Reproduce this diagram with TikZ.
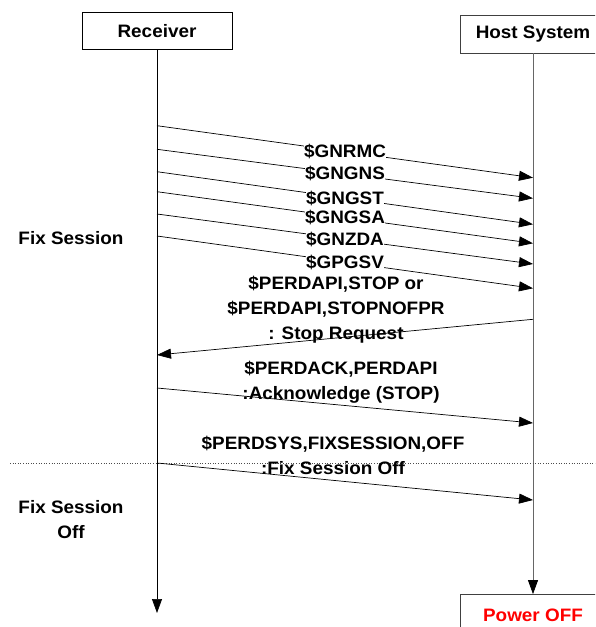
\documentclass[tikz,border=0pt]{standalone}
\usepackage{fontspec}
\setmainfont{Liberation Sans}[FakeStretch=1.05]
\usepackage{xcolor}
\usetikzlibrary{arrows.meta,positioning}

\begin{document}
\begin{tikzpicture}[x=1pt, y=-1pt,
    box/.style={draw, line width=0.8pt, minimum width=150pt, minimum height=37pt, inner sep=0pt,
        font=\bfseries\fontsize{18}{25}\selectfont},
    life/.style={line width=0.8pt},
    msg/.style={-{Triangle[length=14pt, width=10pt]}, line width=0.7pt},
    lbl/.style={font=\bfseries\fontsize{18}{25}\selectfont, inner sep=0.5pt, align=center},
    gn/.style={lbl, fill=white, pos=0.5}
]
    \useasboundingbox (0,0) rectangle (595,627);
    \clip (0,0) rectangle (595,627);

    % lifeline heads
    \node[box] (rx) at (157,31) {Receiver};
    \node[box, draw=black!75, minimum width=146pt, minimum height=38pt] (host) at (533,34) {Host System};
    \node[box, draw=black!75, minimum width=146pt, minimum height=42pt] (off) at (533,615.5) {\textcolor{red}{Power OFF}};
    \coordinate (rxend) at (157,613);

    \draw[life, msg] (rx) -- (rxend);
    \draw[life, msg, black!60, -{Triangle[length=14pt, width=10pt, black]}] (host) -- (off);

    % session separator
    \coordinate (sepl) at (10,463);
    \coordinate (sepr) at (595,463);
    \draw[dotted, line width=0.6pt, black!70] (sepl) -- (sepr);

    % message ends
    \coordinate (r1) at (157,125.7); \coordinate (h1) at (533,177.7);
    \coordinate (r2) at (157,149.3); \coordinate (h2) at (533,198.3);
    \coordinate (r3) at (157,171.7); \coordinate (h3) at (533,224.3);
    \coordinate (r4) at (157,191.7); \coordinate (h4) at (533,243.3);
    \coordinate (r5) at (157,214);   \coordinate (h5) at (533,264);
    \coordinate (r6) at (157,236);   \coordinate (h6) at (533,288.3);
    \coordinate (h7) at (533,319.3); \coordinate (r7) at (157,355);
    \coordinate (r8) at (157,388);   \coordinate (h8) at (533,423);
    \coordinate (r9) at (157,463);   \coordinate (h9) at (533,500);

    \draw[msg] (r1) -- node[gn] (m1) {\$GNRMC} (h1);
    \draw[msg] (r2) -- node[gn] (m2) {\$GNGNS} (h2);
    \draw[msg] (r3) -- node[gn] (m3) {\$GNGST} (h3);
    \draw[msg] (r4) -- node[gn] (m4) {\$GNGSA} (h4);
    \draw[msg] (r5) -- node[gn] (m5) {\$GNZDA} (h5);
    \draw[msg] (r6) -- node[gn] (m6) {\$GPGSV} (h6);
    \draw[msg] (h7) -- (r7);
    \draw[msg] (r8) -- (h8);
    \draw[msg] (r9) -- (h9);

    \node[lbl] (stopreq) at (336,310) {\$PERDAPI,STOP or\\\$PERDAPI,STOPNOFPR\\: Stop Request};
    \node[lbl] (ack) at (341,382) {\$PERDACK,PERDAPI\\:Acknowledge (STOP)};
    \node[lbl] (fsoff) at (333,455) {\$PERDSYS,FIXSESSION,OFF\\:Fix Session Off};

    % phases
    \node[lbl] (fix) at (71,238) {Fix Session};
    \node[lbl] (fixoff) at (71,520) {Fix Session\\Off};
\end{tikzpicture}
\end{document}
